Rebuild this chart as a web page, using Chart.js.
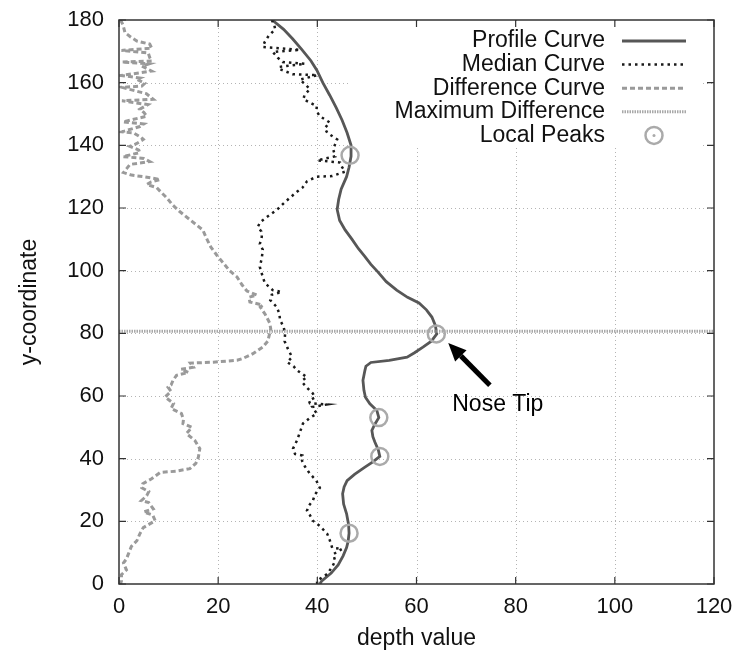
<!DOCTYPE html>
<html>
<head>
<meta charset="utf-8">
<script src="https://cdn.jsdelivr.net/npm/chart.js"></script>
<style>
  html, body { margin: 0; padding: 0; background: #fff; }
</style>
</head>
<body>
<canvas id="profileChart" width="740" height="655"></canvas>
<script>
  // tick labels
  const depthTicks = [0, 20, 40, 60, 80, 100, 120];
  const coordTicks = [0, 20, 40, 60, 80, 100, 120, 140, 160, 180];

  // profile curve
  const profileY = [180, 177, 174, 170.7, 167, 164, 160, 156, 152, 148, 144, 140, 136.5, 133, 130, 126, 122.7, 119.5, 116, 113, 110, 107, 104.5, 102, 99.6, 96.5, 93.8, 91.5, 89.7, 87.5, 85.2, 82.5, 79.8, 77.5, 75.6, 73.8, 72.4, 71.4, 70.7, 69.5, 68.2, 65, 61.8, 59.6, 57.5, 55.4, 53.1, 51, 49, 47, 45.3, 42.8, 40.7, 39, 37.3, 35, 33, 31, 28.8, 25.5, 22.4, 19, 16.2, 13.5, 11.6, 9, 6.1, 3.5, 1, 0];
  const profileDepth = [30.9, 33.2, 35, 36.8, 38.7, 39.9, 41.1, 42.5, 43.8, 45, 46, 46.8, 46.8, 46.4, 45.9, 44.8, 44.3, 44, 44.5, 45.6, 47, 48.3, 49.6, 50.8, 52.2, 53.9, 56, 58.2, 60.5, 62, 63.1, 63.8, 64.1, 63, 61.3, 59.6, 58.1, 54.5, 50.8, 49.8, 49.6, 49.2, 49.4, 49.7, 50.6, 52, 52.4, 51.6, 51, 51.2, 51.6, 52.3, 52.6, 51.2, 49.6, 47.5, 46, 45.4, 45.1, 45.3, 45.9, 46.3, 46.4, 46.2, 45.9, 45.2, 44.2, 42.8, 40.9, 40.5];

  // median curve
  const medianY = [180, 178.5, 177, 175, 173, 171.4, 170.5, 169.8, 168, 166.6, 166, 165, 164.3, 162.7, 162.4, 161, 159.5, 158, 156, 154.7, 152.5, 151, 149.3, 147.3, 145.5, 144, 141.9, 140, 138.7, 136.5, 135.2, 134.5, 133, 131.6, 130.2, 130, 129, 128.5, 126.5, 125.2, 123.3, 121.5, 119.5, 117.2, 115.5, 114, 112.5, 110.8, 108.5, 106.7, 104, 101.2, 98.5, 96.1, 93.8, 93.2, 92.3, 90.6, 88.4, 86.5, 84.2, 82, 80, 77.5, 75.6, 74, 72.4, 70.8, 69.5, 68.2, 66, 65, 64.1, 62.5, 60.8, 59.5, 58.5, 57.7, 57.3, 56.5, 54.4, 53, 51.2, 48.5, 45.8, 43.2, 41.5, 41, 39.4, 37.5, 35.2, 33, 30.7, 28.5, 26.6, 25, 23.4, 22, 20.2, 18.5, 16, 14, 11.5, 11.2, 9.5, 7.4, 5.5, 3.2, 1, 0];
  const medianDepth = [30.8, 31.3, 31.5, 30.2, 29.4, 29, 36.5, 31, 32, 33, 37.5, 32.2, 32.5, 35, 40, 36.5, 37.5, 38.5, 37.4, 37.2, 39.9, 39.8, 40.5, 42.5, 41.5, 42, 44, 43.5, 43.2, 43.6, 40, 44.6, 45, 45.6, 43, 39.9, 38.5, 37.9, 37, 35.9, 34.5, 33.2, 31.9, 29.9, 28.5, 28, 28.7, 28.8, 28.4, 29, 28.8, 28.4, 28.9, 29.4, 31, 32.8, 30.8, 30.5, 31.8, 32.3, 32.5, 33.2, 33.5, 33.4, 33.9, 34.4, 34.9, 33.9, 35.2, 35.9, 37.9, 37, 37.1, 38, 39.1, 39.5, 38.3, 38.5, 42, 39, 39.9, 38.5, 37.1, 36.5, 35.9, 35.1, 35.5, 37, 36.9, 37.5, 38.5, 39.8, 40.5, 39.5, 39.1, 38.3, 37.9, 38.5, 39.1, 40.5, 42, 42.5, 43, 45, 43.2, 43.6, 43, 42, 39.9, 40];

  // difference curve
  const diffY = [180, 178.5, 176, 174.5, 173.3, 172.3, 171, 170.3, 169.5, 168, 166.9, 166.6, 166, 165.3, 163.7, 162.3, 161.5, 161.1, 159.8, 158.9, 158.5, 157.9, 156.5, 154.7, 154.2, 153, 151.5, 150.5, 149.3, 147.5, 146.8, 146, 144.3, 144, 142.5, 141.9, 140.5, 139.7, 138.5, 137.7, 136.4, 135.8, 134.8, 133.9, 132.5, 131.3, 130.5, 130, 129.1, 128.3, 127.5, 126.5, 125, 123.3, 121, 118.8, 116, 113, 110.5, 107.6, 105, 102.5, 100, 98, 95.5, 93.5, 92.2, 91.5, 90, 89, 88.4, 86, 83.3, 81.5, 80, 77.5, 75.6, 73.5, 72, 71.4, 70.8, 70.5, 69.2, 68.5, 67.5, 66.6, 65, 63.5, 62.8, 61.5, 59.7, 57.6, 56, 54.4, 52.5, 51.2, 50, 48, 45.8, 43.2, 40.4, 38.5, 36.8, 36, 35.6, 33.5, 32, 30.7, 29.5, 28.2, 26.6, 26, 24, 23, 22, 20.2, 18, 16, 13.8, 12, 9.6, 8, 6.7, 4.5, 3, 1, 0];
  const diffDepth = [0.3, 0.8, 1.2, 2.4, 3.6, 6.2, 6.6, 0.5, 5.9, 6.2, 6.6, 0.6, 6, 4.6, 6.6, 0.5, 4.2, 3.6, 5.2, 4.6, 0.6, 2, 5.5, 6.9, 0.6, 5.8, 4.2, 5, 5.6, 0.8, 5, 4.2, 0.6, 2.9, 4.5, 4.9, 3.5, 2.2, 4, 4.2, 0.8, 5, 6.2, 2.2, 1.5, 0.9, 2.5, 4.9, 8.3, 6.5, 5.6, 7.6, 8.5, 9.6, 10.8, 12.3, 14.5, 16.9, 17.6, 18.5, 19.7, 21, 22.3, 23.8, 24.8, 25.8, 27.8, 26.2, 26.4, 29, 28.5, 29.5, 30.4, 30.6, 30.4, 30, 29, 27, 25, 23.8, 19, 14.4, 15, 12.5, 14, 11.6, 10.9, 10.5, 9.9, 10.5, 9.3, 11, 10.5, 12.6, 13, 12.9, 14.7, 13.6, 15.3, 16.3, 16, 15.5, 14.3, 11.5, 8.3, 6.5, 4.8, 4.6, 6, 5.6, 4.5, 6, 6.9, 5, 6.8, 7.3, 4.9, 4.2, 3.6, 2.5, 1.9, 1.5, 0.9, 1.5, 0.5, 0.5, 0.3];

  // maximum difference line and local peaks
  const maxDiffY = 80.7;
  const peakDepth = [46.6, 64, 52.4, 52.6, 46.4];
  const peakY = [136.8, 79.8, 53.1, 40.7, 16.2];

  // nose tip annotation (data units)
  const noseArrowFrom = [74.8, 63.4];
  const noseArrowTo = [66.4, 76.9];
  const noseLabelAt = [76.4, 57.3];

  const FONT = "'Liberation Sans', Arial, Helvetica, sans-serif";
  const pairs = (xs, ys) => xs.map((x, i) => ({ x: x, y: ys[i] }));

  // grid, legend box, frame, inward ticks, legend and arrow (gnuplot look)
  const gnuplotDeco = {
    id: 'gnuplotDeco',
    beforeDatasetsDraw(chart) {
      const { ctx, chartArea: a, scales: { x, y } } = chart;
      ctx.save();
      ctx.strokeStyle = '#b4b4b4';
      ctx.lineWidth = 1;
      ctx.setLineDash([1, 3]);
      depthTicks.slice(1, -1).forEach(v => {
        const px = Math.round(x.getPixelForValue(v)) + 0.5;
        ctx.beginPath(); ctx.moveTo(px, a.top); ctx.lineTo(px, a.bottom); ctx.stroke();
      });
      coordTicks.slice(1, -1).forEach(v => {
        const py = Math.round(y.getPixelForValue(v)) + 0.5;
        ctx.beginPath(); ctx.moveTo(a.left, py); ctx.lineTo(a.right, py); ctx.stroke();
      });
      ctx.setLineDash([]);
      // legend box hides the grid behind it
      ctx.fillStyle = '#fff';
      ctx.fillRect(350, a.top + 1, 350, 127);
      ctx.restore();
    },
    afterDatasetsDraw(chart) {
      const { ctx, chartArea: a, scales: { x, y } } = chart;
      ctx.save();
      // frame
      ctx.strokeStyle = '#333';
      ctx.lineWidth = 1.5;
      ctx.strokeRect(a.left, a.top, a.right - a.left, a.bottom - a.top);
      // inward ticks on all four sides
      ctx.lineWidth = 1.2;
      ctx.beginPath();
      depthTicks.forEach(v => {
        const px = x.getPixelForValue(v);
        ctx.moveTo(px, a.bottom); ctx.lineTo(px, a.bottom - 7);
        ctx.moveTo(px, a.top); ctx.lineTo(px, a.top + 7);
      });
      coordTicks.forEach(v => {
        const py = y.getPixelForValue(v);
        ctx.moveTo(a.left, py); ctx.lineTo(a.left + 7, py);
        ctx.moveTo(a.right, py); ctx.lineTo(a.right - 7, py);
      });
      ctx.stroke();

      // legend, gnuplot style: text right-aligned, sample on the right
      const textRight = 605, sx0 = 622, sx1 = 686;
      let rowY = 41;
      ctx.font = '23px ' + FONT;
      ctx.textAlign = 'right';
      ctx.textBaseline = 'middle';
      chart.data.datasets.forEach(ds => {
        ctx.fillStyle = '#111';
        ctx.fillText(ds.label, textRight, rowY);
        ctx.strokeStyle = ds.borderColor;
        ctx.lineWidth = ds.borderWidth;
        if (ds.showLine) {
          ctx.setLineDash(ds.borderDash || []);
          ctx.beginPath(); ctx.moveTo(sx0, rowY); ctx.lineTo(sx1, rowY); ctx.stroke();
          ctx.setLineDash([]);
        } else {
          const cx = (sx0 + sx1) / 2;
          ctx.beginPath(); ctx.arc(cx, rowY, ds.pointRadius, 0, Math.PI * 2); ctx.stroke();
          ctx.fillStyle = ds.borderColor;
          ctx.beginPath(); ctx.arc(cx, rowY, 1.5, 0, Math.PI * 2); ctx.fill();
        }
        rowY += 23.6;
      });

      // nose tip arrow
      const fx = x.getPixelForValue(noseArrowFrom[0]), fy = y.getPixelForValue(noseArrowFrom[1]);
      const tx = x.getPixelForValue(noseArrowTo[0]), ty = y.getPixelForValue(noseArrowTo[1]);
      const ang = Math.atan2(ty - fy, tx - fx);
      const headLen = 18, headW = 8;
      const bx = tx - headLen * Math.cos(ang), by = ty - headLen * Math.sin(ang);
      ctx.strokeStyle = '#000';
      ctx.fillStyle = '#000';
      ctx.lineWidth = 5;
      ctx.beginPath(); ctx.moveTo(fx, fy); ctx.lineTo(bx, by); ctx.stroke();
      ctx.beginPath();
      ctx.moveTo(tx, ty);
      ctx.lineTo(bx + headW * Math.sin(ang), by - headW * Math.cos(ang));
      ctx.lineTo(bx - headW * Math.sin(ang), by + headW * Math.cos(ang));
      ctx.closePath();
      ctx.fill();
      ctx.font = '23px ' + FONT;
      ctx.textAlign = 'center';
      ctx.fillText('Nose Tip', x.getPixelForValue(noseLabelAt[0]), y.getPixelForValue(noseLabelAt[1]));
      ctx.restore();
    }
  };

  const ctx = document.getElementById('profileChart').getContext('2d');
  new Chart(ctx, {
    type: 'scatter',
    data: {
      datasets: [
        {
          label: 'Profile Curve',
          data: pairs(profileDepth, profileY),
          showLine: true,
          borderColor: '#575757',
          borderWidth: 2.8,
          pointRadius: 0,
          order: 4
        },
        {
          label: 'Median Curve',
          data: pairs(medianDepth, medianY),
          showLine: true,
          borderColor: '#1a1a1a',
          borderWidth: 2.5,
          borderDash: [2.5, 4],
          pointRadius: 0,
          order: 3
        },
        {
          label: 'Difference Curve',
          data: pairs(diffDepth, diffY),
          showLine: true,
          borderColor: '#9a9a9a',
          borderWidth: 3,
          borderDash: [5, 3],
          pointRadius: 0,
          order: 2
        },
        {
          label: 'Maximum Difference',
          data: [{ x: depthTicks[0], y: maxDiffY }, { x: depthTicks[depthTicks.length - 1], y: maxDiffY }],
          showLine: true,
          borderColor: '#a8a8a8',
          borderWidth: 3,
          borderDash: [1.5, 1],
          pointRadius: 0,
          order: 1
        },
        {
          label: 'Local Peaks',
          data: pairs(peakDepth, peakY),
          showLine: false,
          borderColor: '#aaaaaa',
          backgroundColor: 'rgba(0,0,0,0)',
          borderWidth: 2.5,
          pointRadius: 8.5,
          order: 0
        }
      ]
    },
    options: {
      responsive: false,
      animation: false,
      devicePixelRatio: 1,
      layout: { padding: { top: 20, right: 26, left: 0, bottom: 0 } },
      plugins: { legend: { display: false }, tooltip: { enabled: false } },
      scales: {
        x: {
          type: 'linear',
          min: 0,
          max: 120,
          afterBuildTicks: s => { s.ticks = depthTicks.map(v => ({ value: v })); },
          afterFit: s => { s.height = 71; s.paddingLeft = 0; s.paddingRight = 0; },
          grid: { display: false, drawTicks: false },
          border: { display: false },
          ticks: { color: '#111', padding: 10, font: { family: FONT, size: 22 } },
          title: { display: true, text: 'depth value', color: '#111', padding: { top: 0, bottom: 3 }, font: { family: FONT, size: 23, lineHeight: 1.2 } }
        },
        y: {
          type: 'linear',
          min: 0,
          max: 180,
          afterBuildTicks: s => { s.ticks = coordTicks.map(v => ({ value: v })); },
          afterFit: s => { s.width = 119; s.paddingTop = 0; s.paddingBottom = 0; },
          grid: { display: false, drawTicks: false },
          border: { display: false },
          ticks: { color: '#111', padding: 15, font: { family: FONT, size: 22 } },
          title: { display: true, text: 'y-coordinate', color: '#111', padding: { top: 16, bottom: 0 }, font: { family: FONT, size: 23, lineHeight: 1.2 } }
        }
      }
    },
    plugins: [gnuplotDeco]
  });
</script>
</body>
</html>
